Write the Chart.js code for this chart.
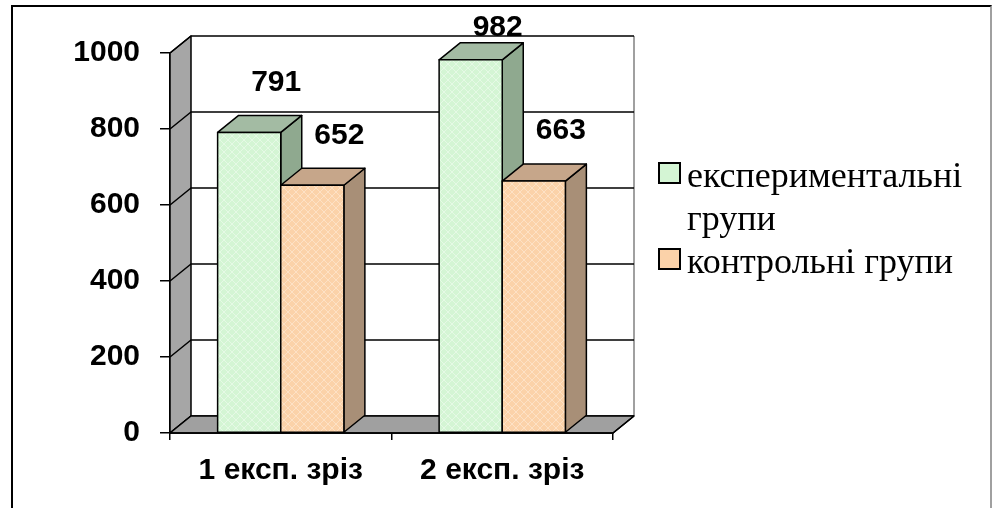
<!DOCTYPE html>
<html>
<head>
<meta charset="utf-8">
<script src="https://cdn.jsdelivr.net/npm/chart.js@4.4.1/dist/chart.umd.min.js"></script>
<style>
  html, body { margin: 0; padding: 0; background: #fff; overflow: hidden; }
  #wrap { position: relative; width: 992px; height: 508px; }
  canvas { display: block; }
  #frame {
    position: absolute; left: 11px; top: 5px; width: 977px; height: 600px;
    border-left: 2px solid #000; border-top: 2px solid #000; border-right: 2px solid #a0a0a0;
    pointer-events: none;
  }
</style>
</head>
<body>
<div id="wrap">
  <canvas id="chart" width="992" height="508"></canvas>
  <div id="frame"></div>
</div>
<script>
// Data
const categories = ['1 експ. зріз', '2 експ. зріз'];
const experimental = [791, 982];
const control = [652, 663];
const seriesNames = [['експериментальні', 'групи'], ['контрольні групи']];
const yMax = 1000;
const yStep = 200;

// Pseudo-3D depth of the plot box and bars
const DX = 21, DY = -17;

const SANS = '"Liberation Sans", Arial, sans-serif';
const SERIF = '"Liberation Serif", "Times New Roman", serif';

// Light mesh texture for the bar fronts
function meshPattern(base, line) {
  const c = document.createElement('canvas');
  c.width = 8; c.height = 8;
  const g = c.getContext('2d');
  g.fillStyle = base;
  g.fillRect(0, 0, 8, 8);
  g.strokeStyle = line;
  g.lineWidth = 1;
  g.beginPath();
  g.moveTo(0, 0); g.lineTo(8, 8);
  g.moveTo(8, 0); g.lineTo(0, 8);
  g.stroke();
  return g.createPattern(c, 'repeat');
}

const palette = [
  { front: meshPattern('#d4f5d4', 'rgba(255,255,255,0.4)'), swatch: '#d4f5d4', side: '#8fa98f', top: '#a3bba3' },
  { front: meshPattern('#fbd2a9', 'rgba(255,245,230,0.45)'), swatch: '#fbd2a9', side: '#a88f77', top: '#c6a68a' }
];

function poly(ctx, pts, fill, stroke, lw) {
  ctx.beginPath();
  ctx.moveTo(pts[0][0], pts[0][1]);
  for (let i = 1; i < pts.length; i++) ctx.lineTo(pts[i][0], pts[i][1]);
  ctx.closePath();
  if (fill) { ctx.fillStyle = fill; ctx.fill(); }
  if (stroke) { ctx.strokeStyle = stroke; ctx.lineWidth = lw || 1.5; ctx.stroke(); }
}

const depthPlugin = {
  id: 'depth',
  beforeDatasetsDraw(chart) {
    const ctx = chart.ctx;
    const a = chart.chartArea;
    const ys = chart.scales.y;
    ctx.save();
    ctx.lineJoin = 'round';

    // back wall
    poly(ctx, [[a.left + DX, a.top + DY], [a.right + DX, a.top + DY], [a.right + DX, a.bottom + DY], [a.left + DX, a.bottom + DY]], '#fff');
    ctx.strokeStyle = '#a0a0a0';
    ctx.lineWidth = 2;
    ctx.beginPath();
    ctx.moveTo(a.right + DX, a.top + DY); ctx.lineTo(a.right + DX, a.bottom + DY);
    ctx.stroke();

    // left side wall
    poly(ctx, [[a.left, a.bottom], [a.left, a.top], [a.left + DX, a.top + DY], [a.left + DX, a.bottom + DY]], '#a6a6a6', '#000', 1.5);

    // gridlines on back and side walls
    ctx.strokeStyle = '#000';
    ctx.lineWidth = 1.5;
    for (let v = 0; v <= yMax; v += yStep) {
      const py = ys.getPixelForValue(v);
      ctx.beginPath();
      ctx.moveTo(a.left, py);
      ctx.lineTo(a.left + DX, py + DY);
      ctx.lineTo(a.right + DX, py + DY);
      ctx.stroke();
    }

    // floor
    poly(ctx, [[a.left, a.bottom], [a.right, a.bottom], [a.right + DX, a.bottom + DY], [a.left + DX, a.bottom + DY]], '#a0a0a0', '#000', 1.5);

    // bars, left to right so nearer fronts cover neighbouring side faces
    const bars = [];
    chart.data.datasets.forEach((ds, di) => {
      const meta = chart.getDatasetMeta(di);
      meta.data.forEach((el) => {
        const p = el.getProps(['x', 'y', 'base', 'width'], true);
        bars.push({ p, col: palette[di] });
      });
    });
    bars.sort((m, n) => m.p.x - n.p.x);
    bars.forEach(({ p, col }) => {
      const l = p.x - p.width / 2, r = p.x + p.width / 2;
      const t = p.y, b = p.base;
      poly(ctx, [[r, t], [r + DX, t + DY], [r + DX, b + DY], [r, b]], col.side, '#000', 1.5);
      poly(ctx, [[l, t], [l + DX, t + DY], [r + DX, t + DY], [r, t]], col.top, '#000', 1.5);
      poly(ctx, [[l, t], [r, t], [r, b], [l, b]], col.front, '#000', 1.5);
    });

    // front edge of the floor
    ctx.strokeStyle = '#000';
    ctx.lineWidth = 1.5;
    ctx.beginPath();
    ctx.moveTo(a.left, a.bottom); ctx.lineTo(a.right, a.bottom); ctx.lineTo(a.right + DX, a.bottom + DY);
    ctx.stroke();
    ctx.restore();
    return false;
  },
  afterDraw(chart) {
    const ctx = chart.ctx;
    ctx.save();

    // value labels above each bar
    ctx.fillStyle = '#000';
    ctx.font = 'bold 30px ' + SANS;
    ctx.textAlign = 'center';
    ctx.textBaseline = 'middle';
    chart.data.datasets.forEach((ds, di) => {
      chart.getDatasetMeta(di).data.forEach((el, i) => {
        const p = el.getProps(['x', 'y'], true);
        const ly = Math.max(p.y + DY - 33, 28);
        ctx.fillText(String(ds.data[i]), p.x + DX + 6, ly);
      });
    });

    // legend
    const lx = 659, tx = 687, firstBase = 187, lineH = 43;
    ctx.font = '36px ' + SERIF;
    ctx.textAlign = 'left';
    ctx.textBaseline = 'alphabetic';
    let base = firstBase;
    seriesNames.forEach((lines, si) => {
      ctx.fillStyle = palette[si].swatch;
      ctx.fillRect(lx, base - 24, 21, 20);
      ctx.strokeStyle = '#000';
      ctx.lineWidth = 2;
      ctx.strokeRect(lx, base - 24, 21, 20);
      ctx.fillStyle = '#000';
      lines.forEach((txt) => {
        ctx.fillText(txt, tx, base);
        base += lineH;
      });
    });
    ctx.restore();
  }
};

new Chart(document.getElementById('chart'), {
  type: 'bar',
  data: {
    labels: categories,
    datasets: [
      { label: seriesNames[0].join(' '), data: experimental, backgroundColor: palette[0].swatch },
      { label: seriesNames[1].join(' '), data: control, backgroundColor: palette[1].swatch }
    ]
  },
  options: {
    responsive: false,
    animation: false,
    events: [],
    devicePixelRatio: 1,
    layout: { padding: { left: 0, top: 53, right: 379, bottom: 0 } },
    datasets: { bar: { categoryPercentage: 0.57, barPercentage: 1.0 } },
    plugins: { legend: { display: false }, tooltip: { enabled: false } },
    scales: {
      x: {
        grid: { drawOnChartArea: false, drawTicks: true, tickLength: 7, color: '#000', lineWidth: 1.5, offset: true },
        border: { display: true, color: '#000', width: 1.5 },
        ticks: { color: '#000', padding: 13, font: { family: SANS, size: 30, weight: 'bold' } },
        afterFit(s) { s.height = 75; }
      },
      y: {
        min: 0, max: yMax,
        grid: { drawOnChartArea: false, drawTicks: true, tickLength: 10, color: '#000', lineWidth: 1.5 },
        border: { display: true, color: '#000', width: 1.5 },
        ticks: {
          stepSize: yStep, color: '#000', padding: 20,
          font: { family: SANS, size: 30, weight: 'bold' },
          callback: (v) => String(v)
        },
        afterFit(s) { s.width = 170; }
      }
    }
  },
  plugins: [depthPlugin]
});
</script>
</body>
</html>
